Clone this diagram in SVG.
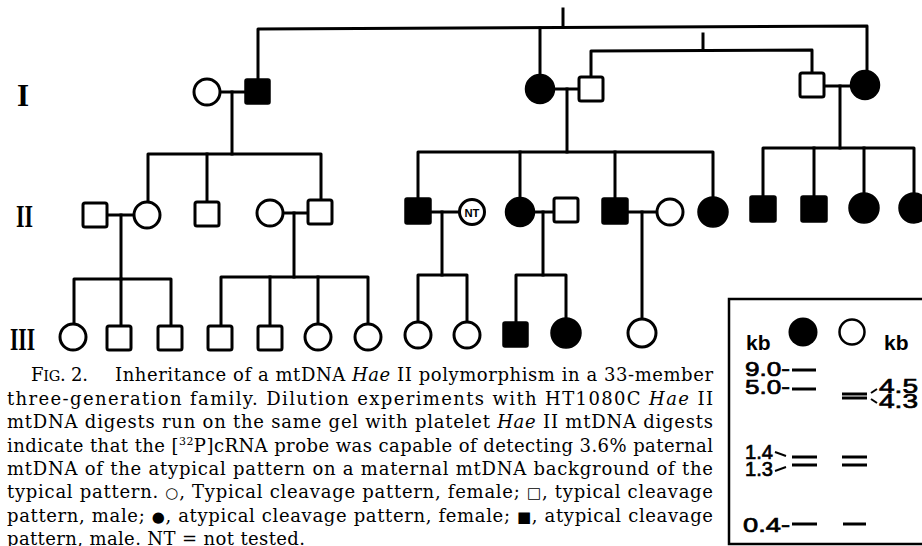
<svg xmlns="http://www.w3.org/2000/svg" width="922" height="546" viewBox="0 0 922 546">
<style>
  .ln { fill: none; stroke: #000; stroke-width: 3; stroke-linejoin: round; stroke-linecap: square; }
  .o { fill: #fff; stroke: #000; stroke-width: 3; }
  .f { fill: #000; stroke: #000; stroke-width: 1.5; }
  .gen { font-family: "Liberation Serif", serif; font-weight: bold; font-size: 31px; fill: #000; }
  .cap { font-family: "DejaVu Serif", "Liberation Serif", serif; font-size: 18px; fill: #000; }
  .sym { font-family: "DejaVu Sans", sans-serif; font-size: 15px; }
  .gel { font-family: "Liberation Sans", sans-serif; font-size: 21px; fill: #000; stroke: #000; stroke-width: 0.7; }
  .kb { font-family: "Liberation Sans", sans-serif; font-weight: bold; font-size: 21px; fill: #000; }
  .band { stroke: #000; stroke-width: 3; }
</style>
<rect width="922" height="546" fill="#fff"/>

<g id="generation-labels">
  <text class="gen" x="23" y="106" text-anchor="middle">I</text>
  <text class="gen" x="16" y="227" textLength="17" lengthAdjust="spacingAndGlyphs">II</text>
  <text class="gen" x="10" y="350" textLength="25" lengthAdjust="spacingAndGlyphs">III</text>
</g>

<g id="connectors">
  <!-- top-level sibship of generation I -->
  <polyline class="ln" points="258,79 258,29 867,26 867,71"/>
  <line class="ln" x1="563" y1="9" x2="563" y2="27"/>
  <line class="ln" x1="540" y1="28" x2="540" y2="75"/>
  <polyline class="ln" points="591,77 591,51 812,50 812,73"/>
  <line class="ln" x1="703" y1="34" x2="703" y2="50"/>
  <!-- generation I marriages -->
  <line class="ln" x1="220" y1="92" x2="245" y2="92"/>
  <line class="ln" x1="232" y1="92" x2="232" y2="154"/>
  <line class="ln" x1="554" y1="89" x2="579" y2="89"/>
  <line class="ln" x1="567" y1="89" x2="567" y2="152"/>
  <line class="ln" x1="824" y1="86" x2="851" y2="86"/>
  <line class="ln" x1="840" y1="86" x2="840" y2="148"/>
  <!-- generation II sibships -->
  <polyline class="ln" points="148,202 148,154 321,154 321,200"/>
  <line class="ln" x1="207" y1="154" x2="207" y2="202"/>
  <polyline class="ln" points="418,198 418,152 713,152 713,197"/>
  <line class="ln" x1="520" y1="152" x2="520" y2="197"/>
  <line class="ln" x1="615" y1="152" x2="615" y2="198"/>
  <polyline class="ln" points="763,196 763,148 914,148 914,193"/>
  <line class="ln" x1="814" y1="148" x2="814" y2="196"/>
  <line class="ln" x1="864" y1="148" x2="864" y2="193"/>
  <!-- generation II marriages -->
  <line class="ln" x1="107" y1="215" x2="134" y2="215"/>
  <line class="ln" x1="121" y1="215" x2="121" y2="279"/>
  <line class="ln" x1="283" y1="213" x2="308" y2="213"/>
  <line class="ln" x1="294" y1="213" x2="294" y2="277"/>
  <line class="ln" x1="431" y1="212" x2="459" y2="212"/>
  <line class="ln" x1="442" y1="212" x2="442" y2="275"/>
  <line class="ln" x1="534" y1="212" x2="554" y2="212"/>
  <line class="ln" x1="543" y1="212" x2="543" y2="275"/>
  <line class="ln" x1="628" y1="212" x2="657" y2="212"/>
  <line class="ln" x1="642" y1="212" x2="642" y2="319"/>
  <!-- generation III sibships -->
  <polyline class="ln" points="74,324 74,279 171,279 171,326"/>
  <line class="ln" x1="121" y1="279" x2="121" y2="326"/>
  <polyline class="ln" points="221,326 221,277 368,277 368,324"/>
  <line class="ln" x1="270" y1="277" x2="270" y2="326"/>
  <line class="ln" x1="318" y1="277" x2="318" y2="324"/>
  <polyline class="ln" points="418,322 418,275 467,275 467,322"/>
  <polyline class="ln" points="516,322 516,275 566,275 566,318"/>
</g>

<!-- Generation I -->
<g id="I-1"><circle class="o" cx="207" cy="92" r="13"/></g>
<g id="I-2"><rect class="f" x="245" y="79" width="25" height="25" rx="2"/></g>
<g id="I-3"><circle class="f" cx="540" cy="89" r="14.5"/></g>
<g id="I-4"><rect class="o" x="579" y="77" width="24" height="24" rx="2"/></g>
<g id="I-5"><rect class="o" x="800" y="73" width="24" height="24" rx="2"/></g>
<g id="I-6"><circle class="f" cx="865" cy="85" r="14.5"/></g>

<!-- Generation II -->
<g id="II-1"><rect class="o" x="83" y="203" width="24" height="24" rx="2"/></g>
<g id="II-2"><circle class="o" cx="147" cy="215" r="13"/></g>
<g id="II-3"><rect class="o" x="195" y="202" width="24" height="24" rx="2"/></g>
<g id="II-4"><circle class="o" cx="270" cy="213" r="13"/></g>
<g id="II-5"><rect class="o" x="308" y="200" width="24" height="24" rx="2"/></g>
<g id="II-6"><rect class="f" x="405" y="198" width="26" height="26" rx="2"/></g>
<g id="II-7"><circle class="o" cx="472" cy="212" r="12.5"/><text x="472" y="216.5" text-anchor="middle" font-family="Liberation Sans, sans-serif" font-weight="bold" font-size="11" textLength="15" lengthAdjust="spacingAndGlyphs">NT</text></g>
<g id="II-8"><circle class="f" cx="520" cy="212" r="14.5"/></g>
<g id="II-9"><rect class="o" x="554" y="198" width="24" height="24" rx="2"/></g>
<g id="II-10"><rect class="f" x="602" y="198" width="26" height="26" rx="2"/></g>
<g id="II-11"><circle class="o" cx="670" cy="212" r="13"/></g>
<g id="II-12"><circle class="f" cx="713" cy="212" r="15"/></g>
<g id="II-13"><rect class="f" x="750" y="196" width="26" height="26" rx="2"/></g>
<g id="II-14"><rect class="f" x="801" y="196" width="26" height="26" rx="2"/></g>
<g id="II-15"><circle class="f" cx="864" cy="208" r="15"/></g>
<g id="II-16"><circle class="f" cx="914" cy="208" r="15"/></g>

<!-- Generation III -->
<g id="III-1"><circle class="o" cx="73" cy="337" r="13"/></g>
<g id="III-2"><rect class="o" x="107" y="326" width="24" height="24" rx="2"/></g>
<g id="III-3"><rect class="o" x="158" y="326" width="24" height="24" rx="2"/></g>
<g id="III-4"><rect class="o" x="208" y="326" width="24" height="24" rx="2"/></g>
<g id="III-5"><rect class="o" x="258" y="326" width="24" height="24" rx="2"/></g>
<g id="III-6"><circle class="o" cx="318" cy="337" r="13"/></g>
<g id="III-7"><circle class="o" cx="368" cy="337" r="13"/></g>
<g id="III-8"><circle class="o" cx="418" cy="335" r="13"/></g>
<g id="III-9"><circle class="o" cx="467" cy="335" r="13"/></g>
<g id="III-10"><rect class="f" x="503" y="322" width="25" height="25" rx="2"/></g>
<g id="III-11"><circle class="f" cx="566" cy="333" r="15"/></g>
<g id="III-12"><circle class="o" cx="642" cy="333" r="14"/></g>

<!-- Gel inset -->
<g id="gel">
  <polyline points="930,299 729,299 729,544 930,544" fill="none" stroke="#000" stroke-width="2.5"/>
  <text class="kb" x="746" y="350">kb</text>
  <circle cx="803" cy="332" r="14.5" fill="#000"/>
  <circle cx="852" cy="332" r="12.5" fill="none" stroke="#000" stroke-width="2.5"/>
  <text class="kb" x="884" y="350">kb</text>
  <text class="gel" x="745" y="376" textLength="45" lengthAdjust="spacingAndGlyphs">9.0-</text>
  <text class="gel" x="745" y="394" textLength="45" lengthAdjust="spacingAndGlyphs">5.0-</text>
  <text class="gel" x="745" y="459" textLength="28" lengthAdjust="spacingAndGlyphs">1.4</text>
  <text class="gel" x="745" y="476" textLength="28" lengthAdjust="spacingAndGlyphs">1.3</text>
  <text class="gel" x="743" y="532" textLength="47" lengthAdjust="spacingAndGlyphs">0.4-</text>
  <text class="gel" x="879" y="393" textLength="39" lengthAdjust="spacingAndGlyphs">4.5</text>
  <text class="gel" x="879" y="408" textLength="39" lengthAdjust="spacingAndGlyphs">4.3</text>
  <line class="band" x1="792" y1="370" x2="816" y2="370"/>
  <line class="band" x1="792" y1="389" x2="816" y2="389"/>
  <line class="band" x1="792" y1="457" x2="817" y2="457"/>
  <line class="band" x1="792" y1="465" x2="817" y2="465"/>
  <line class="band" x1="792" y1="524" x2="817" y2="524"/>
  <line class="band" x1="842" y1="394" x2="867" y2="394"/>
  <line class="band" x1="842" y1="398" x2="867" y2="398"/>
  <line class="band" x1="842" y1="457" x2="867" y2="457"/>
  <line class="band" x1="842" y1="465" x2="867" y2="465"/>
  <line class="band" x1="843" y1="524" x2="866" y2="524"/>
  <line x1="871" y1="393" x2="877" y2="389" stroke="#000" stroke-width="2"/>
  <line x1="871" y1="399" x2="877" y2="403" stroke="#000" stroke-width="2"/>
  <line x1="775" y1="452" x2="786" y2="456" stroke="#000" stroke-width="2"/>
  <line x1="775" y1="471" x2="786" y2="467" stroke="#000" stroke-width="2"/>
</g>

<!-- Caption -->
<g id="caption">
  <text class="cap" x="31" y="381" textLength="57" lengthAdjust="spacing">F<tspan font-size="14.5">IG</tspan>. 2.</text>
  <text class="cap" x="115" y="381" textLength="598" lengthAdjust="spacing">Inheritance of a mtDNA <tspan font-style="italic">Hae</tspan> II polymorphism in a 33-member</text>
  <text class="cap" x="7" y="404.5" textLength="706" lengthAdjust="spacing">three-generation family. Dilution experiments with HT1080C <tspan font-style="italic">Hae</tspan> II</text>
  <text class="cap" x="7" y="428" textLength="706" lengthAdjust="spacing">mtDNA digests run on the same gel with platelet <tspan font-style="italic">Hae</tspan> II mtDNA digests</text>
  <text class="cap" x="7" y="451.5" textLength="706" lengthAdjust="spacing">indicate that the [<tspan font-size="11" dy="-7">32</tspan><tspan dy="7">P]cRNA probe was capable of detecting 3.6% paternal</tspan></text>
  <text class="cap" x="7" y="475" textLength="706" lengthAdjust="spacing">mtDNA of the atypical pattern on a maternal mtDNA background of the</text>
  <text class="cap" x="7" y="498" textLength="706" lengthAdjust="spacing">typical pattern. <tspan class="sym">○</tspan>, Typical cleavage pattern, female; <tspan class="sym">□</tspan>, typical cleavage</text>
  <text class="cap" x="7" y="521.5" textLength="706" lengthAdjust="spacing">pattern, male; <tspan class="sym">●</tspan>, atypical cleavage pattern, female; <tspan class="sym">■</tspan>, atypical cleavage</text>
  <text class="cap" x="7" y="545" textLength="298" lengthAdjust="spacing">pattern, male. NT = not tested.</text>
</g>
</svg>
